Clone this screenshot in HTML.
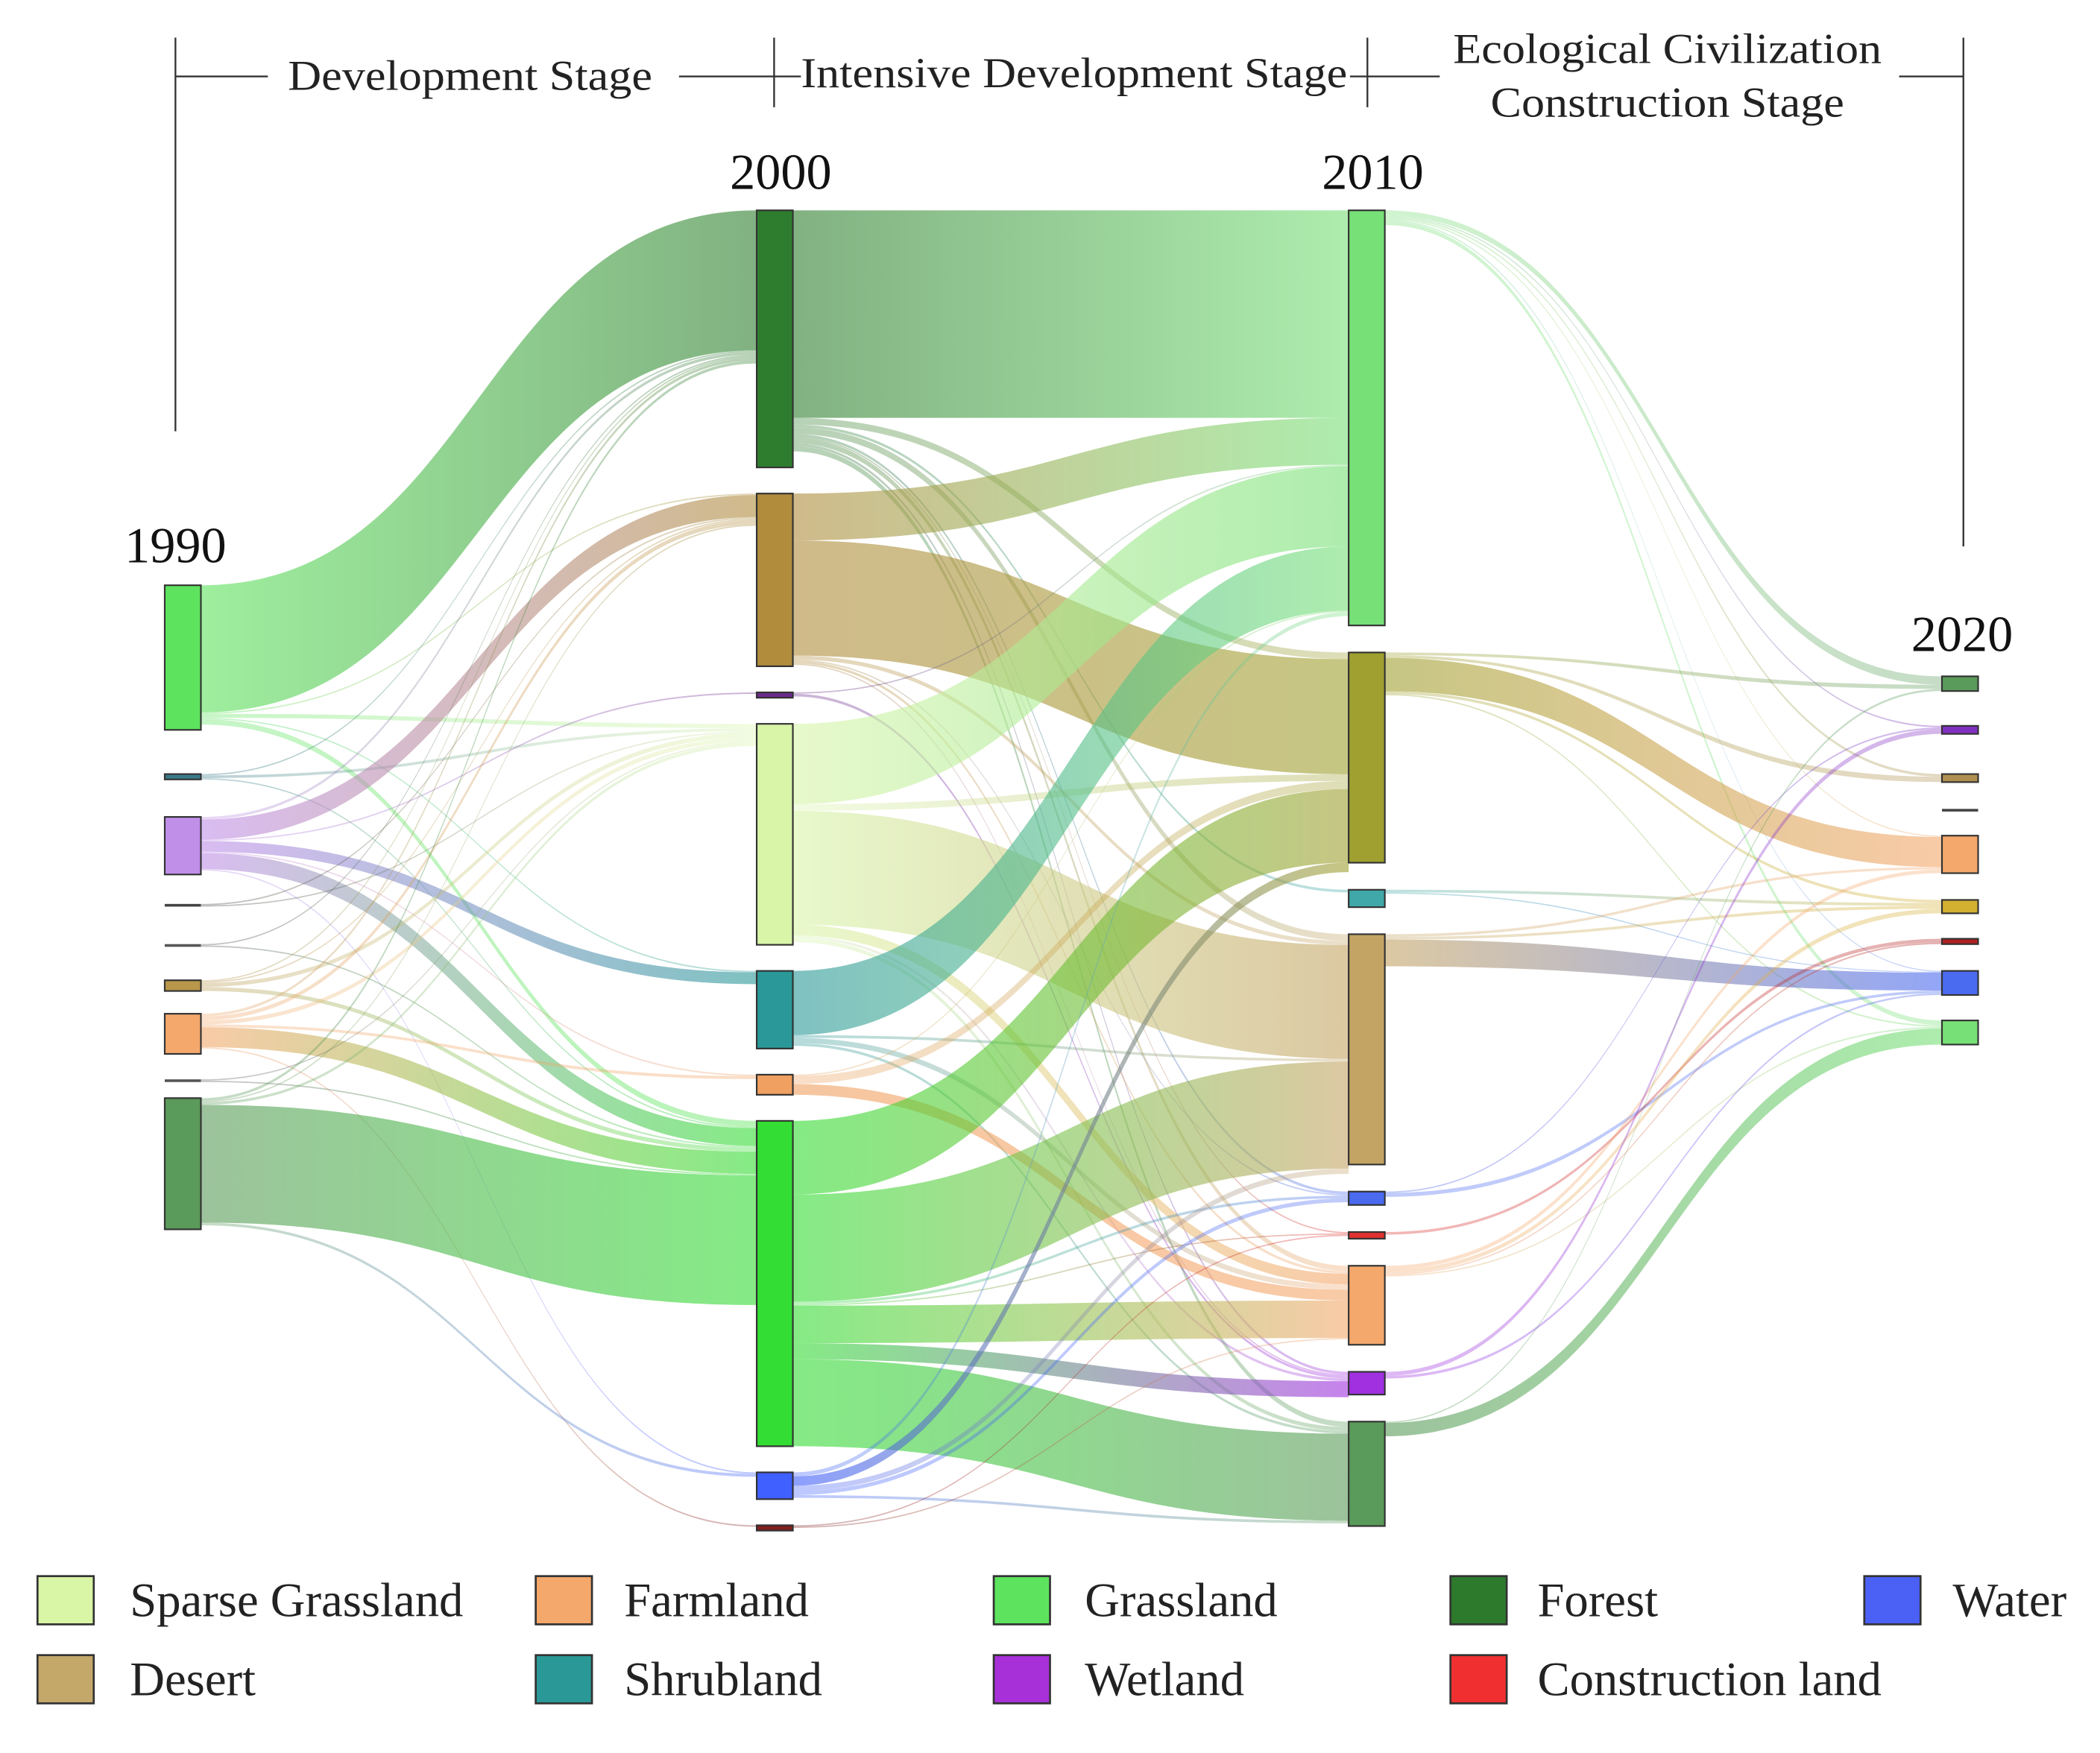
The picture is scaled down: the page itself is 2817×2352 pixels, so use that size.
<!DOCTYPE html>
<html><head><meta charset="utf-8"><style>
html,body{margin:0;padding:0;background:#fff;}
svg{display:block;font-family:"Liberation Serif",serif;}
</style></head><body>
<svg id="chart" width="2817" height="2352" viewBox="0 0 1568 1309" xmlns="http://www.w3.org/2000/svg">
<defs id="defs"></defs>
<g id="header" stroke="#333" stroke-width="1.3">
  <line x1="131" y1="28" x2="131" y2="322"/><line x1="578" y1="28" x2="578" y2="80"/>
  <line x1="1021" y1="28" x2="1021" y2="80"/><line x1="1466" y1="28" x2="1466" y2="408"/>
  <line x1="131" y1="57" x2="200" y2="57"/><line x1="507" y1="57" x2="598" y2="57"/>
  <line x1="1008" y1="57" x2="1075" y2="57"/><line x1="1418" y1="57" x2="1466" y2="57"/>
</g>
<g font-size="32" fill="#222" text-anchor="middle">
  <text x="351" y="67" textLength="272" lengthAdjust="spacingAndGlyphs">Development Stage</text>
  <text x="802" y="65" textLength="408" lengthAdjust="spacingAndGlyphs">Intensive Development Stage</text>
  <text x="1245" y="47" textLength="320" lengthAdjust="spacingAndGlyphs">Ecological Civilization</text>
  <text x="1245" y="87" textLength="264" lengthAdjust="spacingAndGlyphs">Construction Stage</text>
</g>
<g font-size="38" fill="#111" text-anchor="middle">
  <text x="131" y="420">1990</text>
  <text x="583" y="141">2000</text>
  <text x="1025" y="141">2010</text>
  <text x="1465" y="486">2020</text>
</g>
<g id="flows"></g>
<g id="nodes"></g>
<g id="legend" font-size="36" fill="#222"></g>
</svg>
<script>
// node values (heights) per year column
const years = ['1990','2000','2010','2020'];
const nodeNames0 = ['grassland','shrubland','wetland','other-a','other-b','desert','farmland','other-c','forest'];
const nodeValues0 = [108,4,43,2,2,8,30,2,98];
const nodeNames1 = ['forest','desert','wetland','sparse-grassland','shrubland','farmland','grassland','water','construction'];
const nodeValues1 = [192,129,4,165,58,15,243,20,4];
const nodeNames2 = ['grassland','desert-olive','shrubland','desert','water','construction','farmland','wetland','forest'];
const nodeValues2 = [310,157,13,172,10,5,59,17,78];
const nodeNames3 = ['forest','wetland','desert','other','farmland','desert-yellow','construction','water','grassland'];
const nodeValues3 = [11,6,6,2,28,10,4,18,18];
// flows [from, to, value]
const flows01 = [[0,0,95],[0,1,1],[0,3,3],[0,4,1],[0,6,4],[1,0,1],[1,3,2],[1,6,1],
 [2,0,2],[2,1,15],[2,2,1],[2,4,8],[2,5,1],[2,6,12],[2,7,1],[3,1,1],[3,3,1],[4,0,1],[4,6,1],
 [5,0,1],[5,1,1],[5,3,3],[5,6,3],[6,0,2],[6,1,3],[6,3,3],[6,5,2],[6,6,15],[6,8,1],[7,3,1],[7,6,1],
 [8,0,2],[8,1,1],[8,3,2],[8,6,88],[8,7,2]];
const flows12 = [[0,0,155],[0,1,5],[0,2,2],[0,3,5],[0,4,2],[0,5,1],[0,6,4],[0,7,2],[0,8,4],
 [1,0,35],[1,1,86],[1,3,3],[1,4,1],[1,6,2],[1,7,1],[2,0,1],[2,7,2],
 [3,0,60],[3,1,5],[3,3,85],[3,6,8],[3,7,2],[3,8,3],[4,0,48],[4,3,2],[4,6,4],[4,8,2],
 [5,0,1],[5,1,6],[5,6,8],[6,1,55],[6,3,80],[6,4,2],[6,5,1],[6,6,28],[6,7,12],[6,8,65],
 [7,0,3],[7,1,7],[7,3,4],[7,4,3],[7,8,2],[8,5,1],[8,6,1]];
const flows23 = [[0,0,4],[0,1,1],[0,2,1],[0,4,1],[0,7,1],[0,8,3],[1,0,2],[1,2,2],[1,4,25],[1,5,2],[1,8,1],
 [2,5,2],[2,7,1],[3,4,2],[3,5,2],[3,7,20],[4,1,1],[4,7,3],[5,6,2],[6,4,3],[6,5,3],[6,6,1],[6,8,1],
 [7,1,3],[7,7,2],[8,0,1],[8,8,10]];
const legendLabels = ['Sparse Grassland','Farmland','Grassland','Forest','Water','Desert','Shrubland','Wetland','Construction land'];

// layout (not data)
const colX = [123,565,1007,1450], nodeW = 27;
const colTop = [437,157,157,505], colGap = [0,19.5,20.2,0];
const fixedTops0 = [437,578,610,675,705,732,757,806,820];
const fixedTops3 = [505,542,578,604,624,672,701,725,762];
const srcScale = [1,1,1], tgtScale = [1.1,1.0,null];
const colors = [
 ['#5de35d','#3a7a8a','#c08fe8','#444','#555','#b8964a','#f4a86c','#555','#5a9a5a'],
 ['#2e7d2e','#b08c3c','#6a2a8a','#d8f5a8','#2a9898','#f0a060','#33dd33','#4060ff','#802020'],
 ['#77e077','#a0a030','#40a8a8','#c4a464','#4a6af0','#e03030','#f4a86c','#a030e0','#5a9a5a'],
 ['#5a9a5a','#8030c0','#b09050','#444','#f4a86c','#d4b030','#b02020','#4a6af0','#77e077']];
const legendColors = ['#d9f5a6','#f4a86c','#5de35d','#2d7a2d','#4b60f5','#c4a86a','#2a9896','#a830d8','#f03030'];
const NS='http://www.w3.org/2000/svg';
const vals=[nodeValues0,nodeValues1,nodeValues2,nodeValues3];
const names=[nodeNames0,nodeNames1,nodeNames2,nodeNames3];
const tops=vals.map((v,c)=>{
  if(c===0) return fixedTops0; if(c===3) return fixedTops3;
  let y=colTop[c];return v.map(h=>{const t=y;y+=h+colGap[c];return t;});});
const flowSets=[flows01,flows12,flows23];
const gF=document.getElementById('flows'), gN=document.getElementById('nodes'), defs=document.getElementById('defs');
flowSets.forEach((fl,c)=>{
  const inT=new Array(9).fill(0);
  fl.forEach(f=>{inT[f[1]]+=f[2];});
  const outOff=new Array(9).fill(0), inOff=new Array(9).fill(0);
  const srcPos=new Map(), tgtPos=new Map();
  [...fl].sort((a,b)=>a[0]-b[0]||a[1]-b[1]).forEach(f=>{
    const w=f[2]*srcScale[c];srcPos.set(f,[tops[c][f[0]]+outOff[f[0]],w]);outOff[f[0]]+=w;});
  [...fl].sort((a,b)=>a[1]-b[1]||a[0]-b[0]).forEach(f=>{
    const w=tgtScale[c]===null? f[2]/inT[f[1]]*vals[c+1][f[1]] : f[2]*tgtScale[c];
    tgtPos.set(f,[tops[c+1][f[1]]+inOff[f[1]],w]);inOff[f[1]]+=w;});
  fl.forEach((f,i)=>{
    const s=srcPos.get(f), t=tgtPos.get(f);
    const x0=colX[c]+nodeW, x1=colX[c+1], xm=(x0+x1)/2;
    const gid='g'+c+'_'+i;
    const lg=document.createElementNS(NS,'linearGradient');
    lg.setAttribute('id',gid);lg.setAttribute('gradientUnits','userSpaceOnUse');
    lg.setAttribute('x1',x0);lg.setAttribute('x2',x1);lg.setAttribute('y1',0);lg.setAttribute('y2',0);
    lg.innerHTML='<stop offset="0" stop-color="'+colors[c][f[0]]+'"/><stop offset="1" stop-color="'+colors[c+1][f[1]]+'"/>';
    defs.appendChild(lg);
    const p=document.createElementNS(NS,'path');
    const a=s[0],b=s[0]+s[1],d=t[0],e=t[0]+t[1];
    p.setAttribute('d',`M${x0},${a}C${xm},${a} ${xm},${d} ${x1},${d}L${x1},${e}C${xm},${e} ${xm},${b} ${x0},${b}Z`);
    p.setAttribute('fill','url(#'+gid+')');
    p.setAttribute('fill-opacity',f[2]>6?0.6:0.35);
    
    
    gF.appendChild(p);
  });
});
vals.forEach((v,c)=>v.forEach((h,i)=>{
  const r=document.createElementNS(NS,'rect');
  r.setAttribute('x',colX[c]);r.setAttribute('y',tops[c][i]);r.setAttribute('width',nodeW);r.setAttribute('height',Math.max(h,2));
  r.setAttribute('fill',colors[c][i]);r.setAttribute('stroke','#333');r.setAttribute('stroke-width',h>3?1.2:0);
  
  
  gN.appendChild(r);
}));
const lgX=[28,400,742,1083,1392], lgTX=[97,466,810,1148,1458];
const gL=document.getElementById('legend');
legendLabels.forEach((lab,i)=>{
  const row=i<5?0:1, col=row?i-5:i;
  const g=document.createElementNS(NS,'g');
  
  
  const y=1177+row*59;
  g.innerHTML='<rect x="'+lgX[col]+'" y="'+y+'" width="42" height="36" fill="'+legendColors[i]+'" stroke="#333" stroke-width="1.5"/>'+
   '<text x="'+lgTX[col]+'" y="'+(y+30)+'">'+lab+'</text>';
  gL.appendChild(g);
});
</script>
</body></html>
